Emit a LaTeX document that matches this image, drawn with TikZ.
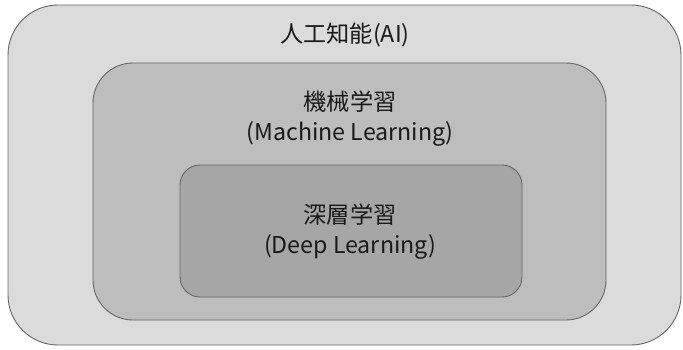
\documentclass[tikz,border=0pt]{standalone}
\usepackage{fontspec}
\setmainfont{Noto Sans CJK JP}
\begin{document}
\begin{tikzpicture}[x=1pt,y=-1pt,
  lay/.style={draw=black!60,line width=0.9pt},
  lbl/.style={font=\fontsize{23.2}{30}\selectfont,align=center,text=black!90,inner sep=0pt}]
\useasboundingbox (0,0) rectangle (683,349);
\fill[white] (0,0) rectangle (683,349);
\draw[lay,fill=black!14,rounded corners=50pt] (8,5) rectangle (681,345);
\draw[lay,fill=black!26,rounded corners=40pt] (93,63) rectangle (606,320);
\draw[lay,fill=black!35,rounded corners=20pt] (180,165) rectangle (522,297);
\node[lbl] (ai) at (345,35) {人工知能(AI)};
\node[lbl] (ml) at (350,119) {機械学習\\(Machine Learning)};
\node[lbl] (dl) at (350,232) {深層学習\\(Deep Learning)};
\end{tikzpicture}
\end{document}
